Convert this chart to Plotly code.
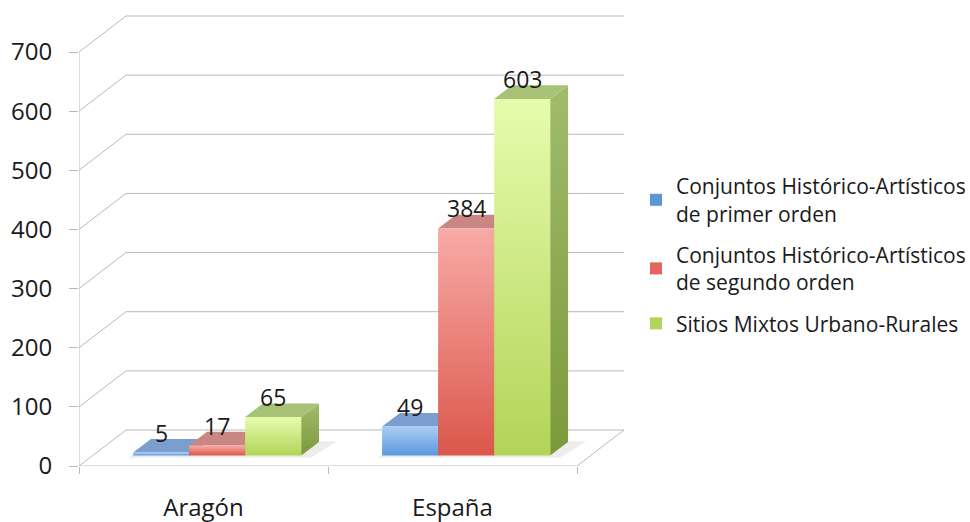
import plotly.graph_objects as go

# ---------------- data ----------------
categories = ["Aragón", "España"]
series_names = [
    "Conjuntos Histórico-Artísticos<br>de primer orden",
    "Conjuntos Histórico-Artísticos<br>de segundo orden",
    "Sitios Mixtos Urbano-Rurales",
]
primer_orden = [5, 49]
segundo_orden = [17, 384]
sitios_mixtos = [65, 603]
y_tick_values = [0, 100, 200, 300, 400, 500, 600, 700]

series_values = [primer_orden, segundo_orden, sitios_mixtos]

# ---------------- styles ----------------
FONT = "Open Sans"
TXT = "#1a1a1a"
GRID = "#b9b9b9"
legend_colors = ["#5e95d8", "#e5645e", "#b3d35c"]
front_grad = [
    [[0, "#5b98dd"], [1, "#aacdf3"]],
    [[0, "#db574b"], [1, "#f8aaa6"]],
    [[0, "#b2d458"], [1, "#e6fcad"]],
]
top_colors = ["#7c9ecf", "#c98682", "#a7c277"]
side_grad = [
    [[0, "#456fa6"], [1, "#6d8fc0"]],
    [[0, "#a8443c"], [1, "#c07470"]],
    [[0, "#7a9a3a"], [1, "#a1bb6c"]],
]

# ---------------- oblique 3D projection (in axis units) ----------------
W, H = 970, 522
ML, MB = 79, 56
PX_PER_CAT = 249.0
PX_PER_VAL = 414.0 / 700.0
DEPTH_DX = 47.0 / PX_PER_CAT      # x shift of full depth (category units)
DEPTH_DV = 36.0 / PX_PER_VAL      # y shift of full depth (value units)
BAR_W = 0.225
D0, D1 = 0.29, 0.67               # bar depth slab

n_cat = len(categories)


def proj(x, v, d):
    return x + d * DEPTH_DX, v + d * DEPTH_DV


fig = go.Figure()


def add_line(p, q):
    fig.add_trace(go.Scatter(x=[p[0], q[0]], y=[p[1], q[1]], mode="lines",
                             line=dict(color=GRID, width=1), showlegend=False,
                             hoverinfo="skip"))


# back wall and left wall gridlines
for v in y_tick_values:
    add_line(proj(0, v, 1), proj(n_cat, v, 1))
    add_line(proj(0, v, 0), proj(0, v, 1))
# floor front and right edges, value axis line
add_line(proj(0, 0, 0), proj(n_cat, 0, 0))
add_line(proj(n_cat, 0, 0), proj(n_cat, 0, 1))
add_line(proj(0, 0, 0), proj(0, y_tick_values[-1], 0))


def poly(pts, **kw):
    xs = [p[0] for p in pts] + [pts[0][0]]
    ys = [p[1] for p in pts] + [pts[0][1]]
    fig.add_trace(go.Scatter(x=xs, y=ys, mode="lines", fill="toself",
                             line=dict(width=0), showlegend=False,
                             hoverinfo="skip", **kw))


# soft floor shadow under each group
for i in range(n_cat):
    gx0 = i + 0.5 - 1.5 * BAR_W
    gx1 = gx0 + 3 * BAR_W
    poly([proj(gx0 - 0.01, 0, D0 - 0.06), proj(gx1 + 0.05, 0, D0 - 0.06),
          proj(gx1 + 0.07, 0, D1 + 0.02), proj(gx0 + 0.02, 0, D1 + 0.02)],
         fillcolor="rgba(0,0,0,0.07)")

annotations = []
for i in range(n_cat):
    for j, vals in enumerate(series_values):
        v = vals[i]
        x0 = i + 0.5 - 1.5 * BAR_W + j * BAR_W
        x1 = x0 + BAR_W
        # right side face
        poly([proj(x1, 0, D0), proj(x1, 0, D1), proj(x1, v, D1), proj(x1, v, D0)],
             fillgradient=dict(type="vertical", colorscale=side_grad[j]))
        # top face
        poly([proj(x0, v, D0), proj(x1, v, D0), proj(x1, v, D1), proj(x0, v, D1)],
             fillcolor=top_colors[j])
        # front face
        poly([proj(x0, 0, D0), proj(x1, 0, D0), proj(x1, v, D0), proj(x0, v, D0)],
             fillgradient=dict(type="vertical", colorscale=front_grad[j]))
        lx, ly = proj((x0 + x1) / 2, v, D0)
        annotations.append(dict(x=lx, y=ly, xref="x", yref="y", text=str(v),
                                showarrow=False, yshift=20,
                                font=dict(family=FONT, size=23, color=TXT)))

# legend entries
for j, name in enumerate(series_names):
    fig.add_trace(go.Scatter(x=[None], y=[None], mode="markers", name=name,
                             legendgroup=f"g{j}",
                             marker=dict(symbol="square", size=12,
                                         color=legend_colors[j])))

plot_w = W - ML
plot_h = H - MB
fig.update_layout(
    width=W, height=H,
    margin=dict(l=ML, r=0, t=0, b=MB, autoexpand=False),
    paper_bgcolor="white", plot_bgcolor="white",
    font=dict(family=FONT, color=TXT),
    annotations=annotations,
    showlegend=True,
    legend=dict(x=(636 - ML) / plot_w, y=1 - 166 / plot_h,
                xanchor="left", yanchor="top",
                font=dict(family=FONT, size=21, color=TXT),
                bgcolor="rgba(0,0,0,0)", tracegroupgap=11,
                traceorder="grouped"),
    xaxis=dict(range=[0, plot_w / PX_PER_CAT], showgrid=False, zeroline=False,
               showline=False, tickmode="array", automargin=False,
               tickvals=[i + 0.5 for i in range(n_cat)], ticktext=categories,
               ticks="", ticklabelstandoff=25,
               tickfont=dict(family=FONT, size=24, color=TXT),
               minor=dict(tickmode="array", tickvals=list(range(n_cat + 1)),
                          ticks="outside", ticklen=7, tickcolor=GRID,
                          showgrid=False),
               fixedrange=True),
    yaxis=dict(range=[0, plot_h / PX_PER_VAL], showgrid=False, zeroline=False,
               showline=False, tickmode="array", tickvals=y_tick_values,
               ticks="outside", ticklen=9, tickcolor=GRID, automargin=False,
               ticklabelstandoff=12,
               tickfont=dict(family=FONT, size=24, color=TXT),
               fixedrange=True),
)

fig.write_html("out.html", config={"displayModeBar": False})
